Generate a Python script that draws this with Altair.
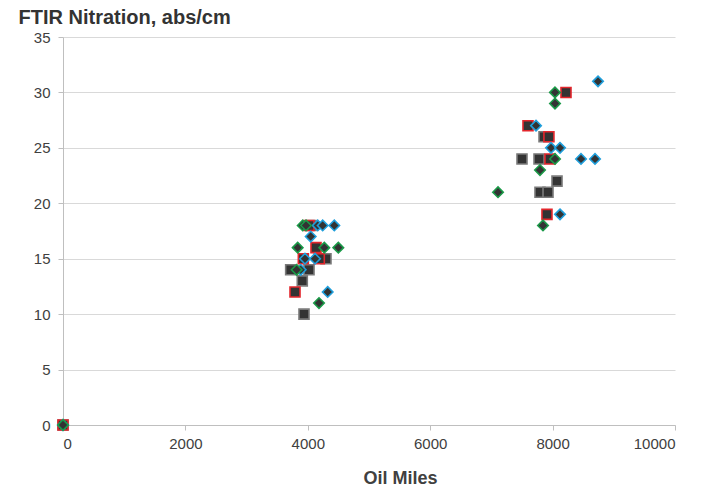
import altair as alt
import pandas as pd

# Oil miles and FTIR nitration readings, one list pair per series
grey_miles = [0, 7860, 7500, 7778, 8072, 7794, 7925, 4052, 4297, 3720, 4020, 3910, 3938]
grey_nitr = [0, 26, 24, 24, 22, 21, 21, 18, 15, 14, 14, 13, 10]

red_miles = [0, 8219, 7598, 7940, 7957, 7908, 4020, 4134, 3927, 4188, 3791]
red_nitr = [0, 30, 27, 26, 24, 19, 18, 16, 15, 15, 12]

blue_miles = [0, 8742, 7729, 7974, 8121, 8464, 8693, 8121, 4162, 4243, 4433, 4047, 3954, 4118, 3884, 4325]
blue_nitr = [0, 31, 27, 25, 25, 24, 24, 19, 18, 18, 18, 17, 15, 15, 14, 12]

green_miles = [0, 8039, 8039, 8039, 7794, 7108, 7843, 3917, 3971, 3835, 4270, 4499, 3818, 4183]
green_nitr = [0, 30, 29, 24, 23, 21, 18, 18, 18, 16, 16, 16, 14, 11]

x_ticks = [0, 2000, 4000, 6000, 8000, 10000]
y_ticks = [0, 5, 10, 15, 20, 25, 30, 35]

FONT = "Liberation Sans"
TEXT = "#404040"
LINE = "#bfbfbf"

series = [
    ("grey", grey_miles, grey_nitr, "square", 100, "#7a7a7a"),
    ("red", red_miles, red_nitr, "square", 100, "#e3262c"),
    ("blue", blue_miles, blue_nitr, "diamond", 110, "#1f9fdc"),
    ("green", green_miles, green_nitr, "diamond", 110, "#1a9a48"),
]

x_enc = alt.X(
    "miles:Q",
    scale=alt.Scale(domain=[0, 10000], nice=False),
    axis=alt.Axis(
        values=x_ticks, grid=False, format="d",
        domainColor=LINE, tickColor=LINE, tickSize=5,
        labelFont=FONT, labelFontSize=15, labelColor=TEXT, labelPadding=6,
        title="Oil Miles", titleFont=FONT, titleFontSize=18, titleFontWeight="bold",
        titleColor=TEXT, titleX=337, titleY=58, titleAlign="center",
        titleBaseline="alphabetic",
    ),
)
y_enc = alt.Y(
    "nitration:Q",
    scale=alt.Scale(domain=[0, 35], nice=False),
    axis=alt.Axis(
        values=y_ticks, grid=True, gridColor="#d9d9d9", gridWidth=1,
        domainColor=LINE, tickColor=LINE, tickSize=5,
        labelFont=FONT, labelFontSize=15, labelColor=TEXT, labelPadding=8,
        title="FTIR Nitration, abs/cm", titleFont=FONT, titleFontSize=20,
        titleFontWeight="bold", titleColor="#333333", titleAngle=0,
        titleAlign="left", titleBaseline="alphabetic", titleX=-45, titleY=-14,
    ),
)

layers = []
for name, xs, ys, shape, size, edge in series:
    df = pd.DataFrame({"miles": xs, "nitration": ys, "series": name})
    layers.append(
        alt.Chart(df)
        .mark_point(
            shape=shape, size=size, filled=True, fill="#333333",
            fillOpacity=1, stroke=edge, strokeWidth=1.6, strokeOpacity=1,
        )
        .encode(x=x_enc, y=y_enc)
    )

chart = (
    alt.layer(*layers)
    .properties(
        width=612, height=388,
        autosize=alt.AutoSizeParams(type="none"),
        padding={"left": 63, "top": 37, "right": 38, "bottom": 63},
        background="white",
    )
    .configure_view(stroke=None)
)

chart.save("out.html", embed_options={"renderer": "svg", "actions": False})
